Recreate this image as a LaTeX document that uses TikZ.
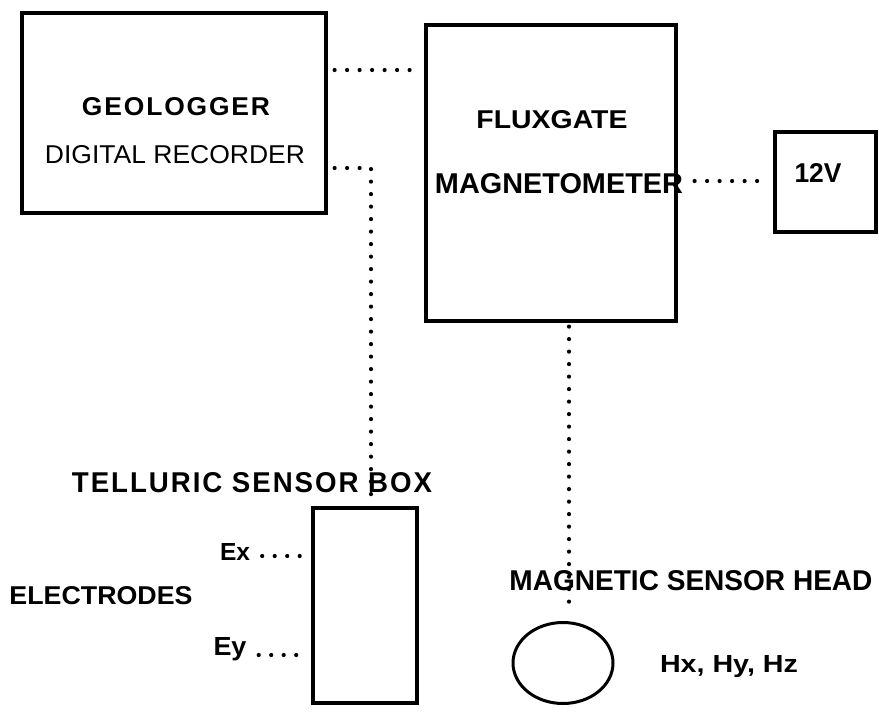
\documentclass[tikz,border=0pt]{standalone}
\usepackage{fontspec}
\setmainfont{Liberation Sans}
\newfontfamily\spacedfont[LetterSpace=7]{Liberation Sans}
\usetikzlibrary{shapes.geometric}
\newcommand{\fitt}[3]{\resizebox{#1pt}{#2pt}{#3}}
\tikzset{
  box/.style={draw, line width=3.2pt, rectangle, inner sep=0pt},
  lbl/.style={inner sep=0pt, anchor=base},
  dots/.style={line width=4.2pt, line cap=round, dash pattern=on 0pt off 12.5pt},
}
\begin{document}
\begin{tikzpicture}[x=1pt,y=-1pt]
\useasboundingbox (0,0) rectangle (879,716);
% boxes
\node[box, minimum width=304pt, minimum height=200pt] (geo) at (174,113) {};
\node[box, minimum width=250pt, minimum height=296pt] (flux) at (551,173) {};
\node[box, minimum width=101pt, minimum height=100pt] (v12) at (825.5,182) {};
\node[box, minimum width=104pt, minimum height=195pt] (tell) at (365,605.5) {};
\node[draw, line width=3pt, ellipse, inner sep=0pt, minimum width=100pt, minimum height=81pt] (head) at (563,663) {};
% labels
\node[lbl] (geot) at (176,115) {\fitt{188}{18}{\spacedfont\bfseries GEOLOGGER}};
\node[lbl] (digt) at (175,163) {\fitt{260}{18}{DIGITAL RECORDER}};
\node[lbl] (fluxt) at (552,128) {\fitt{151}{18}{\bfseries FLUXGATE}};
\node[lbl] (magt) at (559,193) {\fitt{248}{20}{\bfseries MAGNETOMETER}};
\node[lbl] (v12t) at (818,182) {\fitt{47}{19}{\bfseries 12V}};
\node[lbl] (tellt) at (252,492) {\fitt{360}{20}{\spacedfont\bfseries TELLURIC SENSOR BOX}};
\node[lbl] (ex) at (235,560) {\fitt{30}{17}{\bfseries Ex}};
\node[lbl] (elec) at (101,604) {\fitt{183}{18}{\bfseries ELECTRODES}};
\node[lbl] (ey) at (230,655) {\fitt{33}{18}{\bfseries Ey}};
\node[lbl] (headt) at (691,590) {\fitt{363}{20}{\bfseries MAGNETIC SENSOR HEAD}};
\node[lbl] (hxyz) at (729,672) {\fitt{138}{17}{\bfseries Hx, Hy, Hz}};
% connectors
\draw[dots, shorten <=7pt, shorten >=9pt] ([yshift=43pt]geo.east) -- ([yshift=43pt]geo.east -| flux.west);
\draw[dots, shorten <=7pt] ([yshift=-55pt]geo.east) -| ([xshift=6pt]tell.north);
\draw[dots, shorten <=17pt, shorten >=12pt] ([yshift=-8pt]flux.east) -- ([yshift=-8pt]flux.east -| v12.west);
\draw[dots, shorten <=4pt, shorten >=14pt] ([xshift=18pt]flux.south) -- ([xshift=18pt]flux.south |- head.north);
\draw[dots, shorten <=12pt, shorten >=6pt] ([yshift=4pt]ex.base east) -- ([yshift=4pt]ex.base east -| tell.west);
\draw[dots, shorten <=12pt, shorten >=6pt] (ey.base east) -- (ey.base east -| tell.west);
\end{tikzpicture}
\end{document}
